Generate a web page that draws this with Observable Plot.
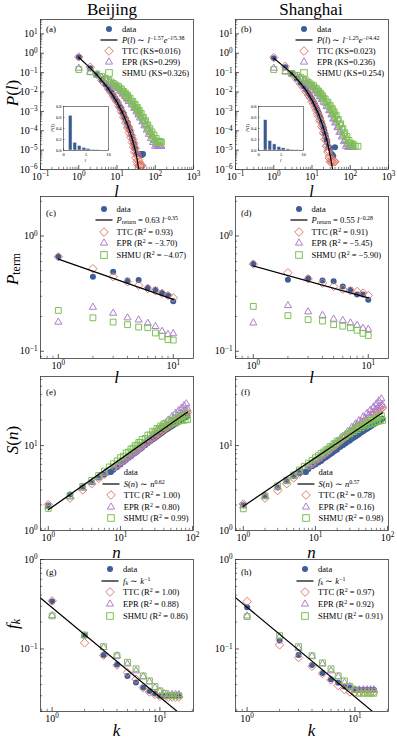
<!DOCTYPE html>
<html><head><meta charset="utf-8">
<script src="https://cdn.jsdelivr.net/npm/d3@7"></script>
<script src="https://cdn.jsdelivr.net/npm/@observablehq/plot@0.6"></script>
<style>
body{margin:0;background:#fff;}
#fig{position:relative;width:397px;height:740px;overflow:hidden;font-family:"Liberation Serif","Times New Roman",serif;color:#000;}
.t{position:absolute;white-space:nowrap;line-height:1;}
.t sup{font-size:70%;vertical-align:0.45em;line-height:0;}
.t sub{font-size:70%;vertical-align:-0.25em;line-height:0;}
.box{position:absolute;}
</style></head><body><div id="fig"></div><script>
// ================= DATA =================
// (a) Beijing  P(l)   (log10 values read from the log axis)
const a_line_l = [1,2,3,5,7,10,15,20,25,30,34,38];
const a_line_P = [0.62,0.17,0.075,0.023,0.0093,0.003,6.2e-4,1.5e-4,3.8e-5,1.0e-5,3.0e-6,7e-7];
const a_data_l = [1,2,3,4,5,6,7,8,9,10,11,12,13,14,15,16,17,18,19,20,21,22,23,24,25,26,27,28,30,32,35,38,42,45,48];
const a_data_log10P = [-0.21,-0.78,-1.11,-1.38,-1.60,-1.82,-2.00,-2.18,-2.33,-2.48,-2.62,-2.78,-2.90,-3.05,-3.15,-3.30,-3.40,-3.55,-3.65,-3.80,-3.90,-4.00,-4.15,-4.25,-4.40,-4.50,-4.65,-4.75,-4.90,-5.20,-5.20,-5.20,-5.20,-5.25,-5.20];
const a_ttc_l = [1,2,3,4,5,6,7,8,9,10,11,12,13,14,15,16,17,18,19,20,21,22,23,24,25,26,27,28,29,30,31,32,33,34,35,36,37,38,39,40,41,43,45];
const a_ttc_log10P = [-0.19,-0.72,-1.10,-1.40,-1.62,-1.85,-2.02,-2.22,-2.38,-2.50,-2.70,-2.80,-3.00,-3.08,-3.30,-3.35,-3.60,-3.55,-3.85,-3.80,-4.10,-4.00,-4.35,-4.25,-4.60,-4.45,-4.85,-4.65,-5.10,-4.90,-5.40,-5.15,-5.60,-5.30,-5.75,-5.50,-5.80,-5.60,-5.80,-5.75,-5.80,-5.80,-5.80];
const a_band_l = [1,2,3,4,5,6,7,8,9,10,11,12,13,14,15,16,17,18,19,20,22,24,26,28,30,32,34,36,38,40,43,46,49,52,56,60,64,68,72,77,82,87,93,99,106,113,120,128,136,145];
const a_epr_log10P = [-0.77,-0.98,-1.13,-1.26,-1.37,-1.47,-1.56,-1.64,-1.71,-1.8,-1.82,-1.96,-1.96,-2.1,-2.1,-2.24,-2.22,-2.36,-2.33,-2.48,-2.48,-2.66,-2.64,-2.84,-2.8,-3.02,-2.96,-3.18,-3.12,-3.34,-3.28,-3.54,-3.48,-3.74,-3.68,-3.96,-3.9,-4.18,-4.08,-4.4,-4.28,-4.6,-4.5,-4.8,-4.7,-4.8,-4.75,-4.8,-4.8,-4.8];
const a_shmu_log10P = [-0.84,-0.96,-1.08,-1.2,-1.3,-1.4,-1.48,-1.56,-1.63,-1.7,-1.72,-1.84,-1.84,-1.98,-1.97,-2.1,-2.08,-2.22,-2.18,-2.32,-2.32,-2.5,-2.48,-2.68,-2.64,-2.84,-2.8,-3.0,-2.94,-3.14,-3.1,-3.34,-3.3,-3.54,-3.48,-3.75,-3.7,-3.98,-3.88,-4.18,-4.06,-4.38,-4.22,-4.54,-4.4,-4.6,-4.54,-4.6,-4.55,-4.6];
const a_inset_l = [1,2,3,4,5,6,7];
const a_inset_P = [0.63,0.14,0.08,0.045,0.025,0.012,0.006];

// (b) Shanghai P(l)
const b_line_l = [1,2,3,5,7,10,15,20,25,30,33,35];
const b_line_P = [0.55,0.18,0.088,0.029,0.0122,0.0038,7e-4,1.4e-4,2.8e-5,5e-6,1.8e-6,8e-7];
const b_data_l = [1,2,3,4,5,6,7,8,9,10,11,12,13,14,15,16,17,18,19,20,21,22,23,24,25,27,30,33,36,40];
const b_data_log10P = [-0.26,-0.72,-1.05,-1.3,-1.52,-1.7,-1.88,-2.05,-2.2,-2.36,-2.5,-2.65,-2.8,-2.95,-3.1,-3.25,-3.4,-3.55,-3.7,-3.85,-4.0,-4.15,-4.3,-4.45,-4.6,-4.85,-4.9,-5.2,-5.3,-4.85];
const b_ttc_l = [1,2,3,4,5,6,7,8,9,10,11,12,13,14,15,16,17,18,19,20,21,22,23,24,25,26,27,28,29,30,31,32,34,36,38,40];
const b_ttc_log10P = [-0.22,-0.68,-1.08,-1.35,-1.58,-1.78,-1.98,-2.15,-2.3,-2.48,-2.62,-2.8,-2.95,-3.12,-3.25,-3.45,-3.55,-3.78,-3.85,-4.1,-4.15,-4.45,-4.45,-4.8,-4.75,-5.1,-5.0,-5.4,-5.3,-5.6,-5.5,-5.6,-5.6,-5.55,-5.6,-5.6];
const b_epr_l = [1,2,3,4,5,6,7,8,9,10,11,12,13,14,15,16,17,18,19,20,22,24,26,28,30,32,34,36,38,40,43,46,49,52,56,60,64,68,72,77,82,87,93,99,106,113,120];
const b_epr_log10P = [-0.77,-0.95,-1.08,-1.2,-1.3,-1.4,-1.5,-1.58,-1.66,-1.74,-1.78,-1.92,-1.94,-2.08,-2.1,-2.24,-2.24,-2.38,-2.38,-2.52,-2.56,-2.74,-2.76,-2.96,-2.96,-3.18,-3.16,-3.4,-3.36,-3.6,-3.56,-3.84,-3.8,-4.08,-4.02,-4.32,-4.26,-4.56,-4.5,-4.8,-4.7,-4.85,-4.8,-4.85,-4.85,-4.85,-4.85];
const b_shmu_l = [1,2,3,4,5,6,7,8,9,10,11,12,13,14,15,16,17,18,19,20,22,24,26,28,30,32,34,36,38,40,43,46,49,52,56,60,64,68,72,77,82,87,93,99,106,113,120,135,160];
const b_shmu_log10P = [-0.84,-0.93,-1.04,-1.14,-1.24,-1.33,-1.42,-1.5,-1.58,-1.65,-1.68,-1.8,-1.82,-1.95,-1.95,-2.08,-2.08,-2.22,-2.2,-2.34,-2.36,-2.54,-2.52,-2.72,-2.68,-2.9,-2.86,-3.08,-3.02,-3.26,-3.2,-3.46,-3.42,-3.7,-3.64,-3.94,-3.88,-4.18,-4.1,-4.42,-4.3,-4.62,-4.5,-4.75,-4.65,-4.75,-4.7,-4.8,-4.8];
const b_inset_l = [1,2,3,4,5,6,7,8];
const b_inset_P = [0.55,0.17,0.11,0.06,0.04,0.02,0.01,0.005];

// (c),(d) P_return vs l
const cd_l = [1,2,3,4,5,6,7,8,9,10];
const c_data = [0.665,0.443,0.49,0.41,0.415,0.356,0.342,0.32,0.305,0.272];
const c_ttc  = [0.66,0.52,0.443,0.40,0.373,0.35,0.335,0.318,0.305,0.291];
const c_epr  = [0.179,0.241,0.214,0.195,0.187,0.175,0.164,0.149,0.14,0.142];
const c_shmu = [0.226,0.195,0.179,0.17,0.162,0.16,0.144,0.135,0.126,0.125];
const c_line_l = [1,10], c_line_P = [0.63,0.282];
const d_data = [0.575,0.417,0.43,0.41,0.405,0.365,0.342,0.311,0.31,0.28];
const d_ttc  = [0.57,0.48,0.425,0.39,0.365,0.345,0.335,0.33,0.32,0.305];
const d_epr  = [0.176,0.249,0.22,0.205,0.19,0.185,0.176,0.168,0.158,0.155];
const d_shmu = [0.245,0.204,0.188,0.183,0.17,0.165,0.16,0.152,0.143,0.137];
const d_line_l = [1,10], d_line_P = [0.55,0.29];

// (e),(f) S(n) vs n
const ef_n = [1,2,3,4,5,6,7,8,9,10,11,12,13,14,15,16,17,18,19,20,22,24,26,28,30,32,34,36,38,40,43,46,49,52,55,58,61,64,67,70,73,76,79,82,85];
const e_data = [1.97,2.65,3.22,3.7,4.2,4.55,4.85,5.2,5.6,6.0,6.4,6.8,7.2,7.5,7.9,8.2,8.5,8.9,9.2,9.5,10.1,10.7,11.3,11.8,12.3,12.8,13.3,13.8,14.2,14.7,15.3,15.9,16.5,17.0,17.6,18.1,18.6,19.1,19.6,20.1,20.6,21.1,21.6,22.0,22.4];
const e_ttc  = [2.02,2.4,3.0,3.55,4.1,4.6,5.1,5.5,5.9,6.3,6.7,7.1,7.5,7.9,8.2,8.6,8.9,9.3,9.6,9.9,10.6,11.2,11.8,12.4,12.9,13.5,14.0,14.5,15.0,15.5,16.2,16.9,17.5,18.2,18.8,19.4,20.0,20.6,21.2,21.8,22.3,22.9,23.4,24.0,24.5];
const e_epr  = [1.92,2.5,3.15,3.7,4.25,4.7,5.05,5.4,5.8,6.3,6.6,7.1,7.4,7.9,8.2,8.7,8.9,9.5,9.7,10.3,10.8,11.8,12.2,13.4,13.6,15.0,14.9,16.5,16.2,18.0,17.7,20.0,19.4,22.0,21.0,24.0,22.5,25.8,23.8,27.5,25.0,29.5,26.0,31.0,27.0];
const e_shmu = [1.82,2.55,3.3,3.9,4.45,5.0,5.6,6.1,6.6,7.2,7.5,8.2,8.4,9.1,9.3,10.0,10.1,10.9,10.9,11.8,12.1,13.3,13.3,14.7,14.4,15.9,15.4,17.0,16.3,18.0,16.9,19.0,17.8,20.0,18.5,20.8,19.0,21.6,19.5,22.3,19.8,23.0,20.0,23.5,20.2];
const e_line_n = [1,85], e_line_S = [1.75,24.8];
const f_data = [2.0,2.55,3.2,3.8,4.35,4.75,4.9,5.3,5.7,6.0,6.3,6.6,7.0,7.3,7.6,7.9,8.2,8.5,8.8,9.0,9.6,10.1,10.6,11.1,11.5,12.0,12.4,12.8,13.2,13.6,14.2,14.7,15.3,15.8,16.3,16.8,17.3,17.8,18.2,18.7,19.1,19.5,19.9,20.3,20.7];
const f_ttc  = [2.05,2.4,2.95,3.55,4.15,4.7,5.2,5.7,6.1,6.6,7.0,7.4,7.8,8.2,8.6,9.0,9.4,9.8,10.1,10.5,11.2,11.9,12.6,13.3,13.9,14.6,15.2,15.8,16.4,17.0,17.8,18.6,19.4,20.2,21.0,21.7,22.5,23.2,23.9,24.6,25.3,26.0,26.6,27.3,27.9];
const f_epr  = [1.95,2.55,3.25,3.85,4.4,4.9,5.35,5.75,6.2,6.7,7.0,7.6,7.9,8.5,8.7,9.4,9.5,10.3,10.4,11.2,11.7,12.9,13.2,14.6,14.8,16.4,16.3,18.0,17.7,19.6,19.2,21.8,21.0,24.0,22.8,26.2,24.5,28.5,26.2,31.0,27.8,33.5,29.0,35.5,30.0];
const f_shmu = [1.8,2.55,3.35,3.9,4.5,5.15,5.7,6.2,6.7,7.2,7.6,8.1,8.4,8.9,9.1,9.7,9.8,10.5,10.5,11.3,11.6,12.6,12.7,13.8,13.7,15.0,14.6,16.0,15.4,17.0,16.2,18.0,17.0,19.0,17.7,19.8,18.3,20.6,18.8,21.3,19.2,22.0,19.5,22.5,19.8];
const f_line_n = [1,85], f_line_S = [1.93,24.3];

// (g),(h) f_k vs k
const gh_k = [1,2,3,4,5,6,7,8,9,10,11,12,13,14,15];
const g_data = [0.339,0.141,0.0857,0.067,0.050,0.0423,0.037,0.034,0.0318,0.030,0.030,0.030,0.030,0.030,0.030];
const g_ttc  = [0.345,0.117,0.085,0.066,0.0547,0.046,0.037,0.033,0.031,0.0295,0.029,0.029,0.029,0.029,0.029];
const g_epr  = [0.236,0.141,0.104,0.084,0.068,0.057,0.049,0.043,0.037,0.0335,0.0315,0.031,0.031,0.031,0.031];
const g_shmu = [0.234,0.143,0.106,0.084,0.071,0.060,0.050,0.044,0.038,0.034,0.032,0.030,0.030,0.030,0.030];
const g_line_k = [0.78,14.5], g_line_f = [0.372,0.02];
const h_data = [0.292,0.124,0.0857,0.066,0.054,0.046,0.042,0.038,0.037,0.035,0.035,0.035,0.035,0.035,0.035];
const h_ttc  = [0.339,0.111,0.080,0.064,0.053,0.045,0.039,0.035,0.033,0.033,0.033,0.033,0.033,0.033,0.033];
const h_epr  = [0.234,0.137,0.102,0.083,0.068,0.057,0.049,0.042,0.038,0.035,0.035,0.035,0.035,0.035,0.035];
const h_shmu = [0.23,0.141,0.106,0.084,0.070,0.060,0.050,0.044,0.038,0.035,0.032,0.032,0.032,0.032,0.032];
const h_line_k = [0.78,14.6], h_line_f = [0.375,0.02];

// ================= DRAWING =================
const SER = '"Liberation Serif","Times New Roman",serif';
const COL = {data:"#3c5e99", ttc:"#e27b6d", epr:"#ad80cc", shmu:"#7dc153"};
const fig = d3.select("#fig");

const zipXY = (xs, ys) => xs.map((x,i)=>({x, y: ys[i]}));
const zipLog = (xs, ls) => xs.map((x,i)=>({x, y: Math.pow(10, ls[i])}));

function logTicks(lo, hi){
  const major=[], minor=[];
  for(let e=Math.floor(Math.log10(lo))-1; e<=Math.ceil(Math.log10(hi)); e++){
    const b = Math.pow(10,e);
    if(b>=lo*0.9999 && b<=hi*1.0001) major.push(b);
    for(let m=2;m<=9;m++){ const v=+(m*b).toPrecision(6); if(v>=lo && v<=hi) minor.push(v); }
  }
  return {major, minor};
}

function supTicks(svg){
  d3.select(svg).selectAll('g[aria-label$="tick label"] text').each(function(){
    const m = (this.textContent||"").match(/^10\^(.*)$/);
    if(!m) return;
    const s = d3.select(this); s.text(null);
    s.append("tspan").text("10");
    s.append("tspan").attr("dy","-0.45em").attr("font-size","0.72em").text(m[1].replace("-","\u2212"));
  });
}

function seriesMarks(s){
  const m = [];
  m.push(Plot.dot(s.data, {x:"x", y:"y", r:3, fill:COL.data, stroke:"none", clip:true}));
  m.push(Plot.dot(s.ttc, {x:"x", y:"y", symbol:"diamond2", r:3.8, fill:"none", stroke:COL.ttc, strokeWidth:1, clip:true}));
  m.push(Plot.dot(s.epr, {x:"x", y:"y", symbol:"triangle2", r:3.4, fill:"none", stroke:COL.epr, strokeWidth:1, clip:true}));
  m.push(Plot.dot(s.shmu, {x:"x", y:"y", symbol:"square2", r:3.7, fill:"none", stroke:COL.shmu, strokeWidth:1, clip:true}));
  m.push(Plot.line(s.line, {x:"x", y:"y", stroke:"#000", strokeWidth:1.2, clip:true}));
  return m;
}

function panel({fx, fy, fh, xd, yd, series}){
  const fw=153, ml=40, mt=12, mr=6, mb=26;
  const xt = logTicks(xd[0], xd[1]), yt = logTicks(yd[0], yd[1]);
  const fmt = d => "10^" + Math.round(Math.log10(d));
  const tk = {stroke:"#333", strokeWidth:0.8};
  const svg = Plot.plot({
    width: ml+fw+mr, height: mt+fh+mb,
    marginLeft: ml, marginTop: mt, marginRight: mr, marginBottom: mb,
    style: {fontFamily: SER, fontSize: "10px", background: "transparent", overflow: "visible", color:"#000"},
    x: {type:"log", domain: xd},
    y: {type:"log", domain: yd},
    marks: [
      ...seriesMarks(series),
      Plot.frame({stroke:"#3a3a3a", strokeWidth:0.8}),
      Plot.tickX(xt.major, {x:d=>d, insetTop: fh-4, ...tk}),
      Plot.tickX(xt.minor, {x:d=>d, insetTop: fh-2.2, stroke:"#333", strokeWidth:0.6}),
      Plot.tickY(yt.major, {y:d=>d, insetRight: fw-4, ...tk}),
      Plot.tickY(yt.minor, {y:d=>d, insetRight: fw-2.2, stroke:"#333", strokeWidth:0.6}),
      Plot.axisX({ticks: xt.major, tickSize:0, tickPadding:3, tickFormat: fmt, label:null, fontSize:10}),
      Plot.axisY({ticks: yt.major, tickSize:0, tickPadding:3, tickFormat: fmt, label:null, fontSize:10})
    ]
  });
  supTicks(svg);
  const d = fig.append("div").attr("class","box").style("left",(fx-ml)+"px").style("top",(fy-mt)+"px")
    .style("width",(ml+fw+mr)+"px").style("height",(mt+fh+mb)+"px");
  d.node().appendChild(svg);
}

function inset({fx, fy, l, P}){
  const fw=45, fh=44, ml=18, mt=4, mr=4, mb=16;
  const bins = l.map((v,i)=>({l:v, P:P[i]}));
  const svg = Plot.plot({
    width: ml+fw+mr, height: mt+fh+mb,
    marginLeft: ml, marginTop: mt, marginRight: mr, marginBottom: mb,
    style: {fontFamily: SER, fontSize:"4.5px", background:"transparent", overflow:"visible"},
    x: {domain:[0,10]}, y: {domain:[0,0.8]},
    marks: [
      Plot.frame({fill:"white", stroke:"none"}),
      Plot.rectY(bins, {x:"l", y:"P", interval:1, fill:"#3b5b90", stroke:"#dfe7f1", strokeWidth:0.5}),
      Plot.frame({stroke:"#333", strokeWidth:0.6}),
      Plot.tickX([0,5,10], {x:d=>d, insetTop: fh-1.6, stroke:"#333", strokeWidth:0.5}),
      Plot.tickY([0,0.2,0.4,0.6,0.8], {y:d=>d, insetRight: fw-1.6, stroke:"#333", strokeWidth:0.5}),
      Plot.axisX({ticks:[0,5,10], tickSize:0, tickPadding:2, label:null, fontSize:4.5}),
      Plot.axisY({ticks:[0,0.2,0.4,0.6,0.8], tickFormat:".1f", tickSize:0, tickPadding:2, label:null, fontSize:4.5})
    ]
  });
  const d = fig.append("div").attr("class","box").style("left",(fx-ml)+"px").style("top",(fy-mt)+"px")
    .style("width",(ml+fw+mr)+"px").style("height",(mt+fh+mb)+"px");
  d.node().appendChild(svg);
  txt("<i>P</i>(<i>l</i>)", fx-11, fy+22, {size:5, rot:true});
  txt("<i>l</i>", fx+22.5, fy+fh+10, {size:5});
}

function txt(html, x, y, o={}){
  const d = fig.append("div").attr("class","t").style("left",x+"px").style("top",y+"px").html(html);
  d.style("font-size",(o.size||10)+"px");
  let tr = o.left ? "translate(0,-50%)" : "translate(-50%,-50%)";
  if(o.rot) tr += " rotate(-90deg)";
  d.style("transform", tr);
  return d;
}

function symSVG(k){
  const open = '<svg width="20" height="12" style="position:absolute;left:0;top:0;overflow:visible">';
  switch(k){
    case "data": return open+`<circle cx="10" cy="6" r="3" fill="${COL.data}"/></svg>`;
    case "line": return open+`<line x1="1.5" x2="18.5" y1="6" y2="6" stroke="#000" stroke-width="1.2"/></svg>`;
    case "ttc": return open+`<path d="M10,1.7L14.3,6L10,10.3L5.7,6Z" fill="none" stroke="${COL.ttc}"/></svg>`;
    case "epr": return open+`<path d="M10,1.9L13.6,8.1L6.4,8.1Z" fill="none" stroke="${COL.epr}"/></svg>`;
    default: return open+`<rect x="6.7" y="2.7" width="6.6" height="6.6" fill="none" stroke="${COL.shmu}"/></svg>`;
  }
}

function legend(x0, y0, dy, labels){
  ["data","line","ttc","epr","shmu"].forEach((k,i)=>{
    const yc = y0 + i*dy;
    fig.append("div").attr("class","box").style("left",(x0-10)+"px").style("top",(yc-6)+"px")
      .style("width","20px").style("height","12px").html(symSVG(k));
    txt(labels[i], x0+13, yc, {size:8.5, left:true});
  });
}

// ---------- build panels ----------
const C1 = 40, C2 = 235;
const rows = {a:{fy:19, fh:150}, c:{fy:196, fh:162}, e:{fy:376, fh:154}, g:{fy:559, fh:152}};

panel({fx:C1, ...rows.a, xd:[0.1,1000], yd:[1e-6,55], series:{
  data: zipLog(a_data_l, a_data_log10P), ttc: zipLog(a_ttc_l, a_ttc_log10P),
  epr: zipLog(a_band_l, a_epr_log10P), shmu: zipLog(a_band_l, a_shmu_log10P), line: zipXY(a_line_l, a_line_P)}});
panel({fx:C2, ...rows.a, xd:[0.1,1000], yd:[1e-6,55], series:{
  data: zipLog(b_data_l, b_data_log10P), ttc: zipLog(b_ttc_l, b_ttc_log10P),
  epr: zipLog(b_epr_l, b_epr_log10P), shmu: zipLog(b_shmu_l, b_shmu_log10P), line: zipXY(b_line_l, b_line_P)}});
panel({fx:C1, ...rows.c, xd:[0.7,15], yd:[0.0865,2.2], series:{
  data: zipXY(cd_l, c_data), ttc: zipXY(cd_l, c_ttc), epr: zipXY(cd_l, c_epr), shmu: zipXY(cd_l, c_shmu), line: zipXY(c_line_l, c_line_P)}});
panel({fx:C2, ...rows.c, xd:[0.7,15], yd:[0.0865,2.2], series:{
  data: zipXY(cd_l, d_data), ttc: zipXY(cd_l, d_ttc), epr: zipXY(cd_l, d_epr), shmu: zipXY(cd_l, d_shmu), line: zipXY(d_line_l, d_line_P)}});
panel({fx:C1, ...rows.e, xd:[0.78,103], yd:[1,65], series:{
  data: zipXY(ef_n, e_data), ttc: zipXY(ef_n, e_ttc), epr: zipXY(ef_n, e_epr), shmu: zipXY(ef_n, e_shmu), line: zipXY(e_line_n, e_line_S)}});
panel({fx:C2, ...rows.e, xd:[0.78,103], yd:[1,65], series:{
  data: zipXY(ef_n, f_data), ttc: zipXY(ef_n, f_ttc), epr: zipXY(ef_n, f_epr), shmu: zipXY(ef_n, f_shmu), line: zipXY(f_line_n, f_line_S)}});
panel({fx:C1, ...rows.g, xd:[0.78,20.5], yd:[0.02,1], series:{
  data: zipXY(gh_k, g_data), ttc: zipXY(gh_k, g_ttc), epr: zipXY(gh_k, g_epr), shmu: zipXY(gh_k, g_shmu), line: zipXY(g_line_k, g_line_f)}});
panel({fx:C2, ...rows.g, xd:[0.78,20.5], yd:[0.02,1], series:{
  data: zipXY(gh_k, h_data), ttc: zipXY(gh_k, h_ttc), epr: zipXY(gh_k, h_epr), shmu: zipXY(gh_k, h_shmu), line: zipXY(h_line_k, h_line_f)}});

inset({fx:62.7, fy:105.7, l:a_inset_l, P:a_inset_P});
inset({fx:258.3, fy:105.7, l:b_inset_l, P:b_inset_P});

// ---------- titles, labels ----------
txt("Beijing", 112, 9, {size:17});
txt("Shanghai", 311, 9, {size:17});
const ax = 17;
txt("<i>P</i>(<i>l</i>)", 12, 93, {size:ax, rot:true});
txt("<i>P</i><sub>term</sub>", 12, 269, {size:ax, rot:true});
txt("<i>S</i>(<i>n</i>)", 12, 440, {size:ax, rot:true});
txt("<i>f<sub>k</sub></i>", 12, 624, {size:ax, rot:true});
[116.5, 311.5].forEach(x=>{
  txt("<i>l</i>", x, 191.5, {size:16});
  txt("<i>l</i>", x, 377, {size:ax});
  txt("<i>n</i>", x, 552, {size:ax});
  txt("<i>k</i>", x, 730, {size:ax});
});

// panel letters
[["(a)",C1,29],["(b)",C2,29],["(c)",C1,212.5],["(d)",C2,212.5],["(e)",C1,392],["(f)",C2,392],["(g)",C1,571.5],["(h)",C2,571.5]]
  .forEach(([s,x,y])=>txt(s, x+6, y, {size:9, left:true}));

// legends
const mn = "\u2212";
legend(109, 29, 11, ["data", `<i>P</i>(<i>l</i>) ∼ <i>l</i><sup>${mn}1.57</sup><i>e</i><sup>${mn}<i>l</i>/5.38</sup>`, "TTC (KS=0.016)", "EPR (KS=0.299)", "SHMU (KS=0.326)"]);
legend(304, 29, 11, ["data", `<i>P</i>(<i>l</i>) ∼ <i>l</i><sup>${mn}1.25</sup><i>e</i><sup>${mn}<i>l</i>/4.42</sup>`, "TTC (KS=0.023)", "EPR (KS=0.236)", "SHMU (KS=0.254)"]);
legend(103.5, 208.5, 11.6, ["data", `<i>P</i><sub>return</sub> = 0.63 <i>l</i><sup>${mn}0.35</sup>`, "TTC (R<sup>2</sup> = 0.93)", `EPR (R<sup>2</sup> = ${mn}3.70)`, `SHMU (R<sup>2</sup> = ${mn}4.07)`]);
legend(298.5, 208.5, 11.6, ["data", `<i>P</i><sub>return</sub> = 0.55 <i>l</i><sup>${mn}0.28</sup>`, "TTC (R<sup>2</sup> = 0.91)", `EPR (R<sup>2</sup> = ${mn}5.45)`, `SHMU (R<sup>2</sup> = ${mn}5.90)`]);
legend(110.7, 472.3, 11.5, ["data", `<i>S</i>(<i>n</i>) ∼ <i>n</i><sup>0.62</sup>`, "TTC (R<sup>2</sup> = 1.00)", "EPR (R<sup>2</sup> = 0.80)", "SHMU (R<sup>2</sup> = 0.99)"]);
legend(305.5, 472.3, 11.5, ["data", `<i>S</i>(<i>n</i>) ∼ <i>n</i><sup>0.57</sup>`, "TTC (R<sup>2</sup> = 0.78)", "EPR (R<sup>2</sup> = 0.16)", "SHMU (R<sup>2</sup> = 0.98)"]);
legend(110, 569, 11.7, ["data", `<i>f<sub>k</sub></i> ∼ <i>k</i><sup>${mn}1</sup>`, "TTC (R<sup>2</sup> = 1.00)", "EPR (R<sup>2</sup> = 0.88)", "SHMU (R<sup>2</sup> = 0.86)"]);
legend(305, 569, 11.7, ["data", `<i>f<sub>k</sub></i> ∼ <i>k</i><sup>${mn}1</sup>`, "TTC (R<sup>2</sup> = 0.97)", "EPR (R<sup>2</sup> = 0.92)", "SHMU (R<sup>2</sup> = 0.91)"]);
</script></body></html>
